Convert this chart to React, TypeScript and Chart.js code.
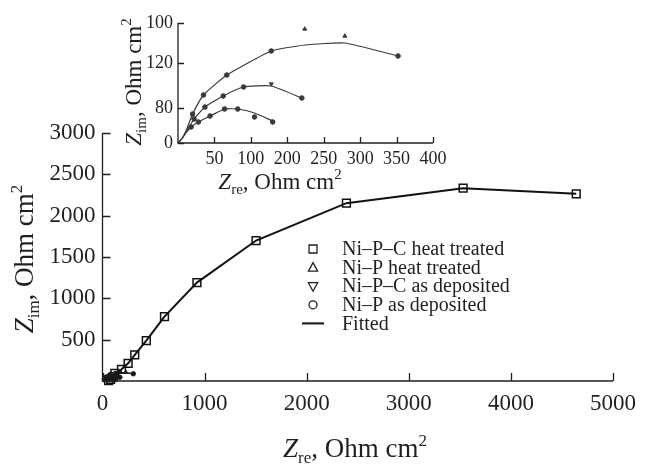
import React, { useEffect, useRef } from 'react';
import { Chart, registerables } from 'chart.js';
Chart.register(...registerables);

// ---------- Main plot data (Ohm cm2) ----------
const nipcHtX = [60, 80, 105, 121, 186, 251, 316, 429, 607, 925, 1504, 2389, 3532, 4640];
const nipcHtY = [5, 20, 52, 93, 141, 214, 315, 488, 779, 1190, 1699, 2151, 2333, 2264];
const mainXTicks = [0, 1000, 2000, 3000, 4000, 5000];
const mainYTicks = [0, 500, 1000, 1500, 2000, 2500, 3000];

// ---------- Inset data (inset axis units) ----------
const nipHtFitX = [0, 6, 12, 20, 35, 67, 128, 174, 229, 302];
const nipHtFitY = [0, 5, 14, 29, 48, 68, 92, 98, 100, 87];
const nipHtDotX = [20, 35, 67, 128, 302];
const nipHtDotY = [29, 48, 68, 92, 87];
const nipHtTriX = [174, 229];
const nipHtTriY = [114, 107];

const nipcAdFitX = [0, 6, 12, 22, 37, 62, 90, 128, 170];
const nipcAdFitY = [0, 5, 12, 24, 36, 47, 56, 57, 45];
const nipcAdDotX = [22, 37, 62, 90, 170];
const nipcAdDotY = [24, 36, 47, 56, 45];
const nipcAdTriX = [128];
const nipcAdTriY = [59];

const nipAdFitX = [0, 6, 12, 18, 28, 44, 64, 82, 105, 130];
const nipAdFitY = [0, 5, 11, 16, 21, 27, 34, 34, 30, 22];
const nipAdDotX = [18, 28, 44, 64, 82];
const nipAdDotY = [16, 21, 27, 34, 34];
const nipAdCircX = [105, 130];
const nipAdCircY = [26, 21];

const insetXTickPos = [50, 100, 150, 200, 250, 300, 350];
const insetXTickLabels = ['50', '100', '200', '250', '300', '350', '400'];
const insetYTickPos = [0, 35, 80, 120];
const insetYTickLabels = ['0', '80', '120', '100'];

const legendLabels = ['Ni\u2013P\u2013C heat treated', 'Ni\u2013P heat treated', 'Ni\u2013P\u2013C as deposited', 'Ni\u2013P as deposited', 'Fitted'];
const legendMarkers = ['rect', 'up', 'down', 'circle', 'line'];

const FONT = "'Liberation Serif', 'DejaVu Serif', serif";
const INK = '#231f20';

const xy = (xs: number[], ys: number[]) => xs.map((x, i) => ({ x, y: ys[i] }));

type Part = { t: string; size: number; italic?: boolean; dy?: number };

function drawRich(ctx: CanvasRenderingContext2D, parts: Part[], x: number, y: number, rotate: boolean) {
  ctx.save();
  ctx.translate(x, y);
  if (rotate) ctx.rotate(-Math.PI / 2);
  ctx.fillStyle = INK;
  ctx.textBaseline = 'alphabetic';
  ctx.textAlign = 'left';
  const widths = parts.map((p) => {
    ctx.font = `${p.italic ? 'italic ' : ''}${p.size}px ${FONT}`;
    return ctx.measureText(p.t).width;
  });
  const total = widths.reduce((a, b) => a + b, 0);
  let cx = -total / 2;
  parts.forEach((p, i) => {
    ctx.font = `${p.italic ? 'italic ' : ''}${p.size}px ${FONT}`;
    ctx.fillText(p.t, cx, p.dy || 0);
    cx += widths[i];
  });
  ctx.restore();
}

function titleParts(sub: string, big: number, small: number): Part[] {
  return [
    { t: 'Z', size: big, italic: true },
    { t: sub, size: small, dy: small * 0.35 },
    { t: ', Ohm cm', size: big },
    { t: '2', size: small, dy: -big * 0.42 },
  ];
}

function marker(ctx: CanvasRenderingContext2D, kind: string, x: number, y: number) {
  ctx.beginPath();
  if (kind === 'rect') {
    ctx.rect(x - 4, y - 4, 8, 8);
  } else if (kind === 'up') {
    ctx.moveTo(x, y - 5);
    ctx.lineTo(x + 4.6, y + 3.5);
    ctx.lineTo(x - 4.6, y + 3.5);
    ctx.closePath();
  } else if (kind === 'down') {
    ctx.moveTo(x, y + 5);
    ctx.lineTo(x + 4.6, y - 3.5);
    ctx.lineTo(x - 4.6, y - 3.5);
    ctx.closePath();
  } else if (kind === 'circle') {
    ctx.arc(x, y, 4, 0, Math.PI * 2);
  } else {
    ctx.moveTo(x - 11, y);
    ctx.lineTo(x + 11, y);
    ctx.lineWidth = 2.2;
  }
  ctx.stroke();
}

function makeAxesPlugin(cfg: { len: number; titles: { parts: Part[]; x: number; y: number; rot: boolean }[]; legend?: boolean }) {
  return {
    id: 'axesDraw',
    afterDraw(chart: any) {
      const { ctx, chartArea: a, scales } = chart;
      const xs = scales.x;
      const ys = scales.y;
      ctx.save();
      ctx.strokeStyle = INK;
      ctx.lineWidth = 1.3;
      ctx.beginPath();
      ctx.moveTo(a.left, a.top);
      ctx.lineTo(a.left, a.bottom);
      ctx.lineTo(a.right, a.bottom);
      xs.ticks.forEach((t: any) => {
        const px = Math.round(xs.getPixelForValue(t.value)) + 0.5;
        ctx.moveTo(px, a.bottom);
        ctx.lineTo(px, a.bottom - cfg.len);
      });
      ys.ticks.forEach((t: any) => {
        const py = Math.round(ys.getPixelForValue(t.value)) + 0.5;
        ctx.moveTo(a.left, py);
        ctx.lineTo(a.left + cfg.len, py);
      });
      ctx.stroke();
      cfg.titles.forEach((t) => drawRich(ctx, t.parts, t.x, t.y, t.rot));
      if (cfg.legend) {
        const mx = 313;
        const tx = 342;
        const y0 = 249;
        const dy = 18.6;
        legendLabels.forEach((lab, i) => {
          const yy = y0 + i * dy;
          ctx.strokeStyle = INK;
          ctx.lineWidth = 1.3;
          marker(ctx, legendMarkers[i], mx, yy);
          ctx.fillStyle = INK;
          ctx.font = `20px ${FONT}`;
          ctx.textBaseline = 'middle';
          ctx.textAlign = 'left';
          ctx.fillText(lab, tx, yy + 1);
        });
      }
      ctx.restore();
    },
  };
}

function subDatasets(dotR: number, lineW: number, color: string) {
  const fit = (xs: number[], ys: number[], label: string) => ({
    type: 'line' as const,
    label,
    data: xy(xs, ys),
    borderColor: color,
    borderWidth: lineW,
    pointRadius: 0,
    tension: 0.15,
    clip: false as any,
  });
  const pts = (xs: number[], ys: number[], label: string, style: string, rot = 0) => ({
    type: 'scatter' as const,
    label,
    data: xy(xs, ys),
    pointStyle: style,
    rotation: rot,
    pointRadius: dotR,
    pointBackgroundColor: color,
    pointBorderColor: color,
    pointBorderWidth: 1,
    clip: false as any,
  });
  return [
    fit(nipHtFitX, nipHtFitY, 'Ni-P heat treated fit'),
    pts(nipHtDotX, nipHtDotY, 'Ni-P heat treated pts', 'circle'),
    pts(nipHtTriX, nipHtTriY, 'Ni-P heat treated', 'triangle'),
    fit(nipcAdFitX, nipcAdFitY, 'Ni-P-C as deposited fit'),
    pts(nipcAdDotX, nipcAdDotY, 'Ni-P-C as deposited pts', 'circle'),
    pts(nipcAdTriX, nipcAdTriY, 'Ni-P-C as deposited', 'triangle', 180),
    fit(nipAdFitX, nipAdFitY, 'Ni-P as deposited fit'),
    pts(nipAdDotX, nipAdDotY, 'Ni-P as deposited pts', 'circle'),
    pts(nipAdCircX, nipAdCircY, 'Ni-P as deposited', 'circle'),
  ];
}

export default function App() {
  const mainRef = useRef<HTMLCanvasElement>(null);
  const insetRef = useRef<HTMLCanvasElement>(null);

  useEffect(() => {
    const tickFontMain = { family: FONT, size: 23 };
    const main = new Chart(mainRef.current as HTMLCanvasElement, {
      type: 'line',
      data: {
        datasets: [
          ...(subDatasets(2.2, 1.5, '#1a1a1a') as any[]),
          {
            type: 'line',
            label: 'Ni-P-C heat treated',
            data: xy(nipcHtX, nipcHtY),
            borderColor: '#111',
            borderWidth: 2,
            pointStyle: 'rect',
            pointRadius: 5.5,
            pointBorderWidth: 1.5,
            pointBorderColor: '#111',
            pointBackgroundColor: 'rgba(0,0,0,0)',
            tension: 0,
            clip: false as any,
          },
        ],
      },
      options: {
        responsive: false,
        animation: false,
        events: [],
        layout: { padding: { top: 133, right: 28, left: 0, bottom: 0 } },
        plugins: { legend: { display: false }, tooltip: { enabled: false } },
        scales: {
          x: {
            type: 'linear',
            min: 0,
            max: 5000,
            grid: { display: false, drawTicks: false },
            border: { display: false },
            afterBuildTicks: (s: any) => { s.ticks = mainXTicks.map((v) => ({ value: v })); },
            afterFit: (s: any) => { s.height = 85; },
            ticks: {
              font: tickFontMain,
              color: INK,
              padding: 9,
              maxRotation: 0,
              autoSkip: false,
              callback: (v: any) => String(v),
            },
          },
          y: {
            type: 'linear',
            min: 0,
            max: 3000,
            grid: { display: false, drawTicks: false },
            border: { display: false },
            afterBuildTicks: (s: any) => { s.ticks = mainYTicks.map((v) => ({ value: v })); },
            afterFit: (s: any) => { s.width = 102.5; },
            ticks: {
              font: tickFontMain,
              color: INK,
              padding: 7,
              autoSkip: false,
              callback: (v: any) => (v === 0 ? '' : String(v)),
            },
          },
        },
      },
      plugins: [
        makeAxesPlugin({
          len: 8,
          legend: true,
          titles: [
            { parts: titleParts('re', 27, 17), x: 355, y: 457, rot: false },
            { parts: titleParts('im', 27, 17), x: 33, y: 259, rot: true },
          ],
        }),
      ],
    } as any);

    const tickFontInset = { family: FONT, size: 18 };
    const inset = new Chart(insetRef.current as HTMLCanvasElement, {
      type: 'line',
      data: { datasets: subDatasets(2.3, 1.2, '#3a3a3a') as any[] },
      options: {
        responsive: false,
        animation: false,
        events: [],
        layout: { padding: { top: 23, right: 27, left: 0, bottom: 0 } },
        plugins: { legend: { display: false }, tooltip: { enabled: false } },
        scales: {
          x: {
            type: 'linear',
            min: 0,
            max: 350,
            grid: { display: false, drawTicks: false },
            border: { display: false },
            afterBuildTicks: (s: any) => { s.ticks = insetXTickPos.map((v) => ({ value: v })); },
            afterFit: (s: any) => { s.height = 57; },
            ticks: {
              font: tickFontInset,
              color: INK,
              padding: 5,
              maxRotation: 0,
              autoSkip: false,
              callback: (v: any) => insetXTickLabels[insetXTickPos.indexOf(v)] ?? '',
            },
          },
          y: {
            type: 'linear',
            min: 0,
            max: 120,
            grid: { display: false, drawTicks: false },
            border: { display: false },
            afterBuildTicks: (s: any) => { s.ticks = insetYTickPos.map((v) => ({ value: v })); },
            afterFit: (s: any) => { s.width = 78; },
            ticks: {
              font: tickFontInset,
              color: INK,
              padding: 5,
              autoSkip: false,
              callback: (v: any) => insetYTickLabels[insetYTickPos.indexOf(v)] ?? '',
            },
          },
        },
      },
      plugins: [
        makeAxesPlugin({
          len: 6,
          titles: [
            { parts: titleParts('re', 23, 15), x: 180, y: 189, rot: false },
            { parts: titleParts('im', 23, 15), x: 41, y: 82, rot: true },
          ],
        }),
      ],
    } as any);

    return () => {
      main.destroy();
      inset.destroy();
    };
  }, []);

  return (
    <div style={{ position: 'absolute', left: 0, top: 0, width: 645, height: 466, background: '#fff' }}>
      <canvas ref={mainRef} width={645} height={466} style={{ position: 'absolute', left: 0, top: 0 }} />
      <canvas ref={insetRef} width={360} height={200} style={{ position: 'absolute', left: 100, top: 0 }} />
    </div>
  );
}
